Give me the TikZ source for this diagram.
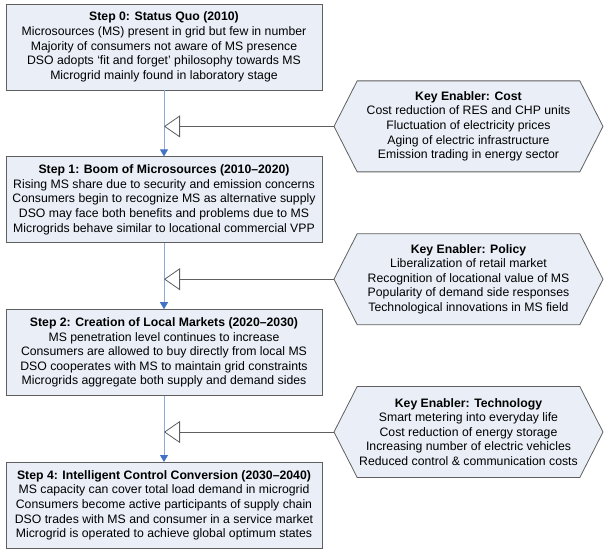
\documentclass[tikz,border=0pt]{standalone}
\usepackage{fontspec}
\setmainfont{Liberation Sans}
\usepackage{xcolor}
\usetikzlibrary{arrows.meta,positioning,calc,shapes.symbols}
\definecolor{sgrey}{HTML}{5F5F5F}
\definecolor{sfill}{HTML}{E9EEF7}
\definecolor{sline}{HTML}{8EAADB}
\definecolor{sblue}{HTML}{4472C4}

\begin{document}
\begin{tikzpicture}[
  node distance=66pt,
  every node/.style={font=\fontsize{12.25pt}{14.6pt}\selectfont},
  stepbox/.style={draw=sgrey,fill=sfill,line width=0.8pt,minimum width=316pt,minimum height=86pt,align=center,inner sep=2pt},
  enabler/.style={shape=signal,signal to=west and east,signal pointer angle=126,draw=sgrey,fill=sfill,line width=0.8pt,minimum width=269pt,minimum height=91pt,align=center,inner sep=2pt},
  flow/.style={sline,line width=1pt,-{Triangle[length=7pt,width=8pt,color=sblue]}},
  feed/.style={sgrey,line width=0.8pt,-{Triangle[open,length=16pt,width=22pt,fill=white]}}
]
\useasboundingbox (0,0) rectangle (610pt,-556pt);
% the four steps
\node[stepbox] (s0) at (164pt,-47pt) {\textbf{Step 0: Status Quo (2010)}\\
  Microsources (MS) present in grid but few in number\\
  Majority of consumers not aware of MS presence\\
  DSO adopts `fit and forget' philosophy towards MS\\
  Microgrid mainly found in laboratory stage};
\node[stepbox,below=of s0] (s1) {\textbf{Step 1: Boom of Microsources (2010–2020)}\\
  Rising MS share due to security and emission concerns\\
  Consumers begin to recognize MS as alternative supply\\
  DSO may face both benefits and problems due to MS\\
  Microgrids behave similar to locational commercial VPP};
\node[stepbox,below=of s1] (s2) {\textbf{Step 2: Creation of Local Markets (2020–2030)}\\
  MS penetration level continues to increase\\
  Consumers are allowed to buy directly from local MS\\
  DSO cooperates with MS to maintain grid constraints\\
  Microgrids aggregate both supply and demand sides};
\node[stepbox,below=of s2] (s3) {\textbf{Step 4: Intelligent Control Conversion (2030–2040)}\\
  MS capacity can cover total load demand in microgrid\\
  Consumers become active participants of supply chain\\
  DSO trades with MS and consumer in a service market\\
  Microgrid is operated to achieve global optimum states};
% key enablers
\node[enabler] (cost) at ($(s0)!0.5!(s1)+(304.5pt,-3pt)$) {\textbf{Key Enabler: Cost}\\
  Cost reduction of RES and CHP units\\
  Fluctuation of electricity prices\\
  Aging of electric infrastructure\\
  Emission trading in energy sector};
\node[enabler] (policy) at ($(s1)!0.5!(s2)+(304.5pt,-3pt)$) {\textbf{Key Enabler: Policy}\\
  Liberalization of retail market\\
  Recognition of locational value of MS\\
  Popularity of demand side responses\\
  Technological innovations in MS field};
\node[enabler] (tech) at ($(s2)!0.5!(s3)+(304.5pt,-3pt)$) {\textbf{Key Enabler: Technology}\\
  Smart metering into everyday life\\
  Cost reduction of energy storage\\
  Increasing number of electric vehicles\\
  Reduced control \& communication costs};
\coordinate (j0) at (s0.south |- cost.west);
\coordinate (j1) at (s1.south |- policy.west);
\coordinate (j2) at (s2.south |- tech.west);
\draw[flow] (s0) -- (s1);
\draw[flow] (s1) -- (s2);
\draw[flow] (s2) -- (s3);
\draw[feed] (cost.west) -- (j0);
\draw[feed] (policy.west) -- (j1);
\draw[feed] (tech.west) -- (j2);
\end{tikzpicture}
\end{document}
